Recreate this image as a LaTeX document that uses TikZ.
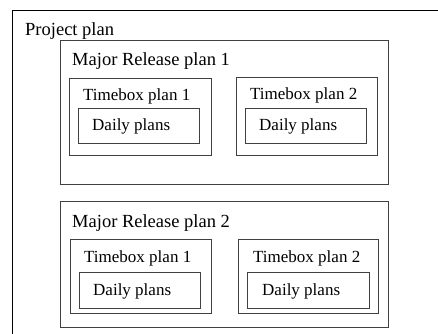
\documentclass[tikz,border=0pt]{standalone}
\usepackage{fontspec}
\setmainfont{Liberation Serif}
\definecolor{framegray}{HTML}{404040}
\tikzset{
  planbox/.style={draw=framegray, line width=0.9pt},
  bigtitle/.style={anchor=base west, inner sep=0pt, font=\fontsize{18.5}{20}\selectfont},
  smalltitle/.style={anchor=base west, inner sep=0pt, font=\fontsize{17}{19}\selectfont},
}
\begin{document}
\begin{tikzpicture}[x=1pt, y=-1pt]
\useasboundingbox (0,0) rectangle (438,333);
\begin{scope}
  \clip (0,0) rectangle (438,333);
  % project frame, running past the page edge
  \draw[line width=0.9pt] (12,10) rectangle (460,360);
\end{scope}
\node[bigtitle] (proj) at (25,35) {Project plan};

% first major release
\draw[planbox] (60,40) rectangle (388,184);
\node[bigtitle] (mr1) at (72,65) {Major Release plan 1};
\draw[planbox] (69,78) rectangle (211,155);
\node[smalltitle] (tb11) at (83,100) {Timebox plan 1};
\draw[planbox] (78,108) rectangle (199,143);
\node[smalltitle] (d11) at (92,130) {Daily plans};
\draw[planbox] (236,77) rectangle (377,155);
\node[smalltitle] (tb12) at (250,99) {Timebox plan 2};
\draw[planbox] (245,108) rectangle (366,143);
\node[smalltitle] (d12) at (259,130) {Daily plans};

% second major release
\draw[planbox] (60,201) rectangle (388,327);
\node[bigtitle] (mr2) at (72,227) {Major Release plan 2};
\draw[planbox] (70.5,239) rectangle (211,313);
\node[smalltitle] (tb21) at (84,262) {Timebox plan 1};
\draw[planbox] (79,272) rectangle (200,308);
\node[smalltitle] (d21) at (93,295) {Daily plans};
\draw[planbox] (238,239) rectangle (378,313);
\node[smalltitle] (tb22) at (253,262) {Timebox plan 2};
\draw[planbox] (247,272) rectangle (369,308);
\node[smalltitle] (d22) at (262,295) {Daily plans};
\end{tikzpicture}
\end{document}
